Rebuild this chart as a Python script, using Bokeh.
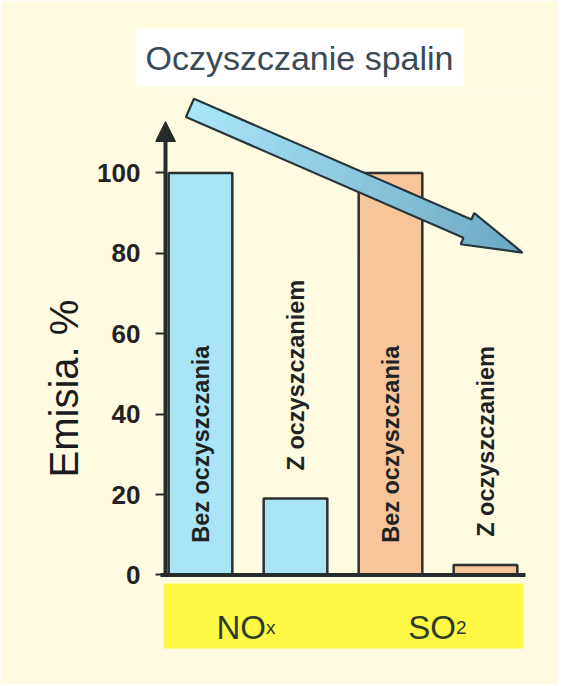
import math
from bokeh.plotting import figure
from bokeh.models import Range1d, FixedTicker, Arrow, NormalHead
from bokeh.core.properties import value
from bokeh.embed import file_html
from bokeh.resources import INLINE

# ---------------- data ----------------
groups = ["NOx", "SO2"]
group_main = ["NO", "SO"]
group_sub = ["x", "2"]
series = ["Bez oczyszczania", "Z oczyszczaniem"]
nox_values = [100, 19]
so2_values = [100, 2.5]
y_ticks = [0, 20, 40, 60, 80, 100]
title_text = "Oczyszczanie spalin"
y_label = "Emisia. %"

# ---------------- styles ----------------
FONT = "Liberation Sans"
BG = "#fefbe1"
BAR_COLORS = {"NOx": "#aae4f7", "SO2": "#f6c69a"}
BAND_COLOR = "#fff845"
DARK = "#262b2b"

values_by_group = {"NOx": nox_values, "SO2": so2_values}

p = figure(width=558, height=684, output_backend="svg", toolbar_location=None,
           x_range=Range1d(0.5263, 4.7684), y_range=Range1d(-27.24, 120.02),
           x_axis_location=None, min_border_left=155, min_border_right=0,
           min_border_top=92, min_border_bottom=0)
p.background_fill_color = BG
p.border_fill_color = BG
p.outline_line_color = None
p.grid.visible = False

# ---------------- bars ----------------
bx, btop, bcol, lab_x, lab_y, lab_text = [], [], [], [], [], []
for gi, g in enumerate(groups):
    for si, s in enumerate(series):
        pos = gi * len(series) + si + 1
        v = values_by_group[g][si]
        bx.append(pos)
        btop.append(v)
        bcol.append(BAR_COLORS[g])
        lab_x.append(pos)
        lab_y.append(8 if v >= 50 else v + 7)
        lab_text.append(s)

# yellow category band
band_left, band_right = min(bx) - 0.39, max(bx) + 0.40
p.quad(left=[band_left], right=[band_right], top=[-2.1], bottom=[-18.3],
       fill_color=BAND_COLOR, line_color=None)

p.vbar(x=bx, top=btop, bottom=0, width=0.67, fill_color=bcol,
       line_color="#2c3030", line_width=2.5)

p.text(x=lab_x, y=lab_y, text=lab_text, angle=math.pi / 2,
       text_align="left", text_baseline="middle",
       text_font=value(FONT), text_font_style="bold",
       text_font_size="23.5px", text_color="#1e2222")

# category labels with subscript
gx = [gi * len(series) + (len(series) + 1) / 2 for gi in range(len(groups))]
p.text(x=gx, y=[-13.06] * len(gx), text=group_main, text_align="right",
       text_baseline="alphabetic", x_offset=18, text_font=value(FONT),
       text_font_size="33px", text_color="#2e3a2c")
p.text(x=gx, y=[-13.06] * len(gx), text=group_sub, text_align="left",
       text_baseline="alphabetic", x_offset=18, text_font=value(FONT),
       text_font_size="19px", text_color="#2e3a2c")

# axis lines (drawn as glyphs)
axis_x = 0.6316
p.segment(x0=[0.579], y0=[0], x1=[4.421], y1=[0], line_color=DARK, line_width=4)
p.add_layout(Arrow(end=NormalHead(size=20, fill_color=DARK, line_color=DARK),
                   x_start=axis_x, y_start=-0.4, x_end=axis_x, y_end=112.8,
                   line_color=DARK, line_width=4))

# ---------------- decorative trend arrow ----------------
PXX, PXY = 95.0, 4.02
tail = (0.889, 116.2)
tip = (4.389, 80.2)
tx, ty = tail[0] * PXX, -tail[1] * PXY
hx, hy = tip[0] * PXX, -tip[1] * PXY
L = math.hypot(hx - tx, hy - ty)
ux, uy = (hx - tx) / L, (hy - ty) / L
nx, ny = -uy, ux
hw, hhw, hl = 10.0, 17.0, 60.0

def pt(s, w):
    X = tx + ux * s + nx * w
    Y = ty + uy * s + ny * w
    return X / PXX, -Y / PXY

def width_at(s, head):
    if not head:
        return hw
    return hhw * (L - s) / hl

c0 = (170, 230, 249)
c1 = (108, 168, 194)
def col(t):
    r = [int(round(a + (b - a) * t)) for a, b in zip(c0, c1)]
    return "#%02x%02x%02x" % tuple(r)

sx, sy, scol = [], [], []
N1, N2 = 16, 6
segs = [(k * (L - hl) / N1, (k + 1) * (L - hl) / N1, False) for k in range(N1)]
segs += [(L - hl + k * hl / N2, L - hl + (k + 1) * hl / N2, True) for k in range(N2)]
for s0, s1, head in segs:
    w0, w1 = width_at(s0, head), width_at(s1, head)
    pts = [pt(s0, w0), pt(s1, w1), pt(s1, -w1), pt(s0, -w0)]
    sx.append([q[0] for q in pts])
    sy.append([q[1] for q in pts])
    scol.append(col((s0 + s1) / 2 / L))
p.patches(xs=sx, ys=sy, fill_color=scol, line_color=scol, line_width=0.8)

outline = [pt(0, hw), pt(L - hl, hw), pt(L - hl, hhw), pt(L, 0),
           pt(L - hl, -hhw), pt(L - hl, -hw), pt(0, -hw)]
p.patch(x=[q[0] for q in outline], y=[q[1] for q in outline],
        fill_color=None, line_color="#26363c", line_width=2.2)

# ---------------- title ----------------
p.title.text = title_text
p.title.align = "left"
p.title.offset = -20
p.title.text_font = FONT
p.title.text_font_style = "normal"
p.title.text_font_size = "34px"
p.title.text_color = "#3b4a55"
p.title.background_fill_color = "white"
p.title.standoff = 12
try:
    p.title.padding = 10
except Exception:
    pass

# ---------------- y axis ----------------
ya = p.yaxis[0]
ya.ticker = FixedTicker(ticks=y_ticks)
ya.axis_line_color = None
ya.major_tick_in = 10
ya.major_tick_out = 0
ya.major_tick_line_color = DARK
ya.major_tick_line_width = 2
ya.minor_tick_line_color = None
ya.major_label_text_font = FONT
ya.major_label_text_font_style = "bold"
ya.major_label_text_font_size = "26px"
ya.major_label_text_color = "#222222"
ya.major_label_standoff = 15
ya.axis_label = y_label
ya.axis_label_text_font = FONT
ya.axis_label_text_font_style = "normal"
ya.axis_label_text_font_size = "40px"
ya.axis_label_text_color = "#1b1b1b"
ya.axis_label_standoff = 8

open("out.html", "w").write(file_html(p, INLINE))
